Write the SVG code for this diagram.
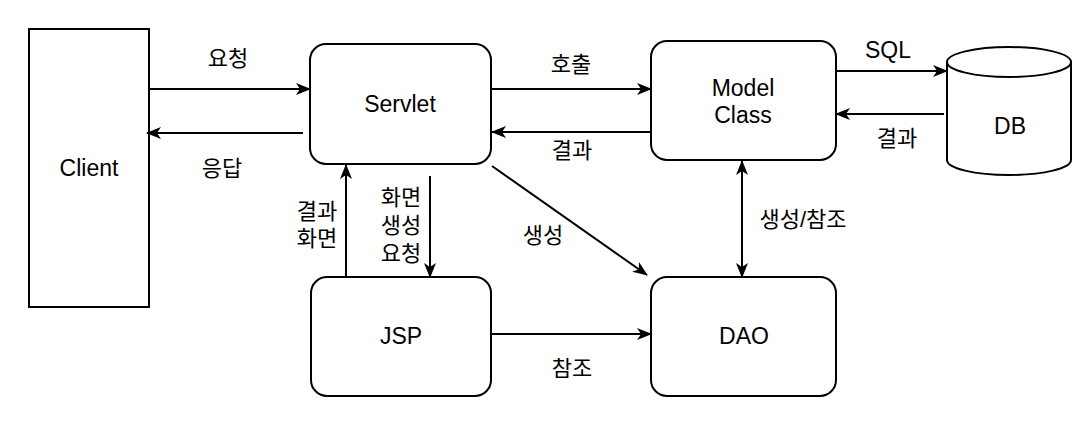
<svg xmlns="http://www.w3.org/2000/svg" width="1092" height="426" viewBox="0 0 1092 426">
<style>
.box{fill:#fff;stroke:#000;stroke-width:2}
.ln{fill:none;stroke:#000;stroke-width:2}
.arr{marker-end:url(#ah)}
text{font-family:"Liberation Sans","Noto Sans CJK KR",Arial,sans-serif;font-size:23px;fill:#000;text-anchor:middle;dominant-baseline:central}
.lb{font-size:22px}
</style>
<defs>
<marker id="ah" viewBox="0 0 15 12" refX="14" refY="6" markerWidth="15" markerHeight="12" markerUnits="userSpaceOnUse" orient="auto-start-reverse">
<path d="M0,0 L15,6 L0,12 L4,6 Z" fill="#000"/>
</marker>
</defs>
<rect width="1092" height="426" fill="#fff"/>
<g id="client"><rect class="box" x="29" y="29" width="120" height="278"/><text x="89" y="168">Client</text></g>
<g id="servlet"><rect class="box" x="310" y="44" width="181" height="120" rx="16"/><text x="400" y="104">Servlet</text></g>
<g id="model"><rect class="box" x="651" y="41" width="185" height="119" rx="16"/><text x="743" y="88">Model</text><text x="743" y="115">Class</text></g>
<g id="db"><path class="box" d="M947,62 a62,15 0 0 1 124,0 v98 a62,15 0 0 1 -124,0 z"/><path class="ln" d="M947,62 a62,15 0 0 0 124,0"/><text x="1010" y="126">DB</text></g>
<g id="jsp"><rect class="box" x="311" y="277" width="180" height="119" rx="16"/><text x="401" y="336">JSP</text></g>
<g id="dao"><rect class="box" x="651" y="277" width="185" height="119" rx="16"/><text x="744" y="336">DAO</text></g>
<g id="connectors">
<line class="ln arr" x1="149" y1="89" x2="310" y2="89"/>
<line class="ln arr" x1="303" y1="133" x2="147" y2="133"/>
<line class="ln arr" x1="491" y1="89" x2="651" y2="89"/>
<line class="ln arr" x1="651" y1="132" x2="492" y2="132"/>
<line class="ln arr" x1="836" y1="71" x2="947" y2="71"/>
<line class="ln arr" x1="944" y1="114" x2="836" y2="114"/>
<line class="ln arr" x1="742" y1="161" x2="742" y2="277" style="marker-start:url(#ah)"/>
<line class="ln arr" x1="492" y1="166" x2="647" y2="275"/>
<line class="ln arr" x1="346" y1="277" x2="346" y2="165"/>
<line class="ln arr" x1="430" y1="176" x2="430" y2="277"/>
<line class="ln arr" x1="491" y1="334" x2="651" y2="334"/>
</g>
<g id="labels">
<text class="lb" x="228" y="58">요청</text>
<text class="lb" x="222" y="168">응답</text>
<text class="lb" x="571" y="64">호출</text>
<text class="lb" x="572" y="150">결과</text>
<text x="888" y="50">SQL</text>
<text class="lb" x="897" y="138">결과</text>
<text class="lb" x="803" y="219">생성/참조</text>
<text class="lb" x="543" y="235">생성</text>
<text class="lb" x="317" y="211">결과</text>
<text class="lb" x="317" y="238">화면</text>
<text class="lb" x="401" y="197">화면</text>
<text class="lb" x="401" y="225">생성</text>
<text class="lb" x="401" y="253">요청</text>
<text class="lb" x="572" y="368">참조</text>
</g>
</svg>
